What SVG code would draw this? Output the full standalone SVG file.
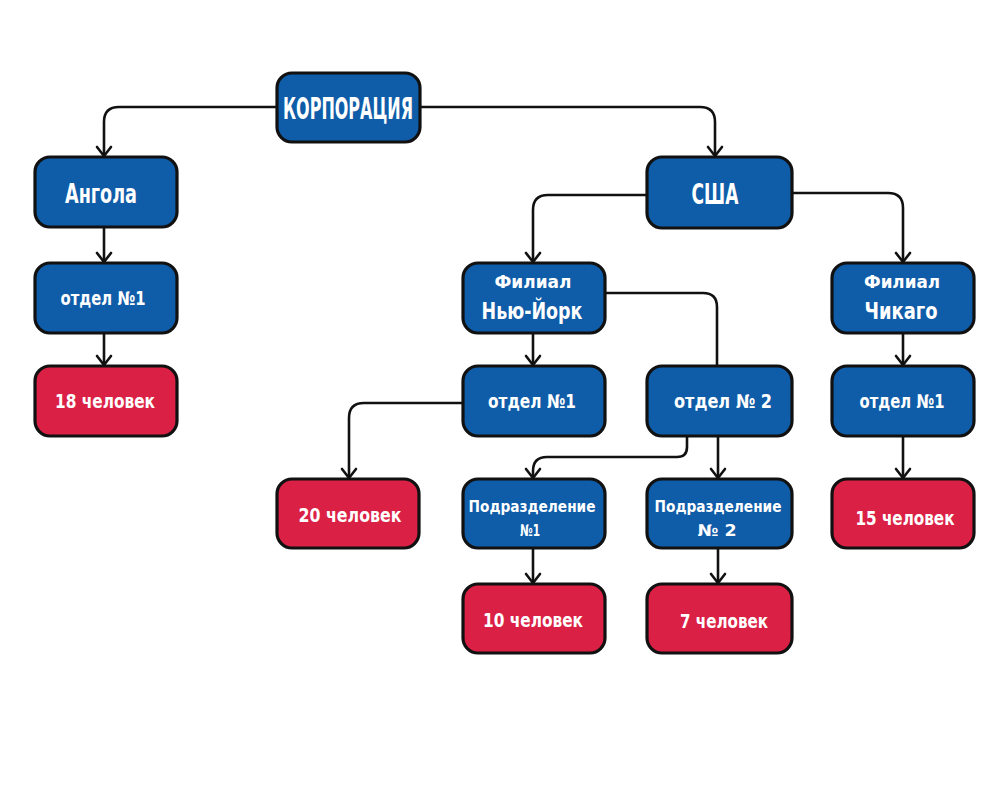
<svg xmlns="http://www.w3.org/2000/svg" width="1002" height="793" viewBox="0 0 1002 793">
<defs>
<style>
.b rect{fill:#0f5ca8;stroke:#111;stroke-width:3.2}
.r rect{fill:#db2045;stroke:#111;stroke-width:3.2}
text{fill:#fff;font-family:"DejaVu Sans Condensed","Liberation Sans Narrow","Liberation Sans",sans-serif;font-weight:bold;text-anchor:middle;dominant-baseline:central}
.c path{fill:none;stroke:#111;stroke-width:2.6}
.a{marker-end:url(#ah)}
</style>
<marker id="ah" viewBox="-11 -9 13 18" refX="0" refY="0" markerWidth="13" markerHeight="18" markerUnits="userSpaceOnUse" orient="auto">
<path d="M-9,-7 L0,0 L-9,7" fill="none" stroke="#111" stroke-width="2.6" stroke-linejoin="round" stroke-linecap="round"/>
</marker>
</defs>
<rect width="1002" height="793" fill="#fff"/>
<g id="connectors" class="c">
<path class="a" d="M277,107 H119 Q104,107 104,122 V156"/>
<path class="a" d="M420,107 H700 Q715,107 715,122 V156"/>
<path class="a" d="M647,195 H548 Q533,195 533,210 V262"/>
<path class="a" d="M792,193 H888 Q903,193 903,208 V262"/>
<path class="a" d="M104,227 V262"/>
<path class="a" d="M104,333 V365"/>
<path class="a" d="M533,333 V365"/>
<path d="M605,293 H703 Q717,293 717,307 V366"/>
<path class="a" d="M463,403 H364 Q349,403 349,418 V478"/>
<path class="a" d="M687,436 V447 Q687,457 677,457 H547 Q533,457 533,471 V478"/>
<path class="a" d="M718,436 V478"/>
<path class="a" d="M533,549 V583"/>
<path class="a" d="M718,549 V583"/>
<path class="a" d="M903,333 V365"/>
<path class="a" d="M903,436 V478"/>
</g>
<g id="corp" class="b"><rect x="277" y="73" width="143" height="69" rx="15"/><text x="348" y="108" font-size="31" textLength="130" lengthAdjust="spacingAndGlyphs">КОРПОРАЦИЯ</text></g>
<g id="angola" class="b"><rect x="35" y="157" width="142" height="70" rx="15"/><text x="101" y="193" font-size="27" textLength="72" lengthAdjust="spacingAndGlyphs">Ангола</text></g>
<g id="usa" class="b"><rect x="647" y="157" width="145" height="71" rx="15"/><text x="715" y="194" font-size="29" textLength="47" lengthAdjust="spacingAndGlyphs">США</text></g>
<g id="angola-otdel1" class="b"><rect x="35" y="263" width="142" height="70" rx="15"/><text x="103" y="298" font-size="19" textLength="85" lengthAdjust="spacingAndGlyphs">отдел №1</text></g>
<g id="angola-18" class="r"><rect x="35" y="366" width="142" height="70" rx="15"/><text x="105" y="401" font-size="20" textLength="100" lengthAdjust="spacingAndGlyphs">18 человек</text></g>
<g id="ny" class="b"><rect x="463" y="263" width="142" height="70" rx="15"/><text x="533" y="282" font-size="17" textLength="77" lengthAdjust="spacingAndGlyphs">Филиал</text><text x="532" y="311" font-size="23" textLength="101" lengthAdjust="spacingAndGlyphs">Нью-Йорк</text></g>
<g id="chicago" class="b"><rect x="832" y="263" width="142" height="70" rx="15"/><text x="902" y="282" font-size="17" textLength="76" lengthAdjust="spacingAndGlyphs">Филиал</text><text x="901" y="311" font-size="23" textLength="73" lengthAdjust="spacingAndGlyphs">Чикаго</text></g>
<g id="ny-otdel1" class="b"><rect x="463" y="366" width="142" height="70" rx="15"/><text x="532" y="401" font-size="19" textLength="88" lengthAdjust="spacingAndGlyphs">отдел №1</text></g>
<g id="ny-otdel2" class="b"><rect x="647" y="366" width="145" height="70" rx="15"/><text x="723" y="401" font-size="19" textLength="98" lengthAdjust="spacingAndGlyphs">отдел № 2</text></g>
<g id="chicago-otdel1" class="b"><rect x="832" y="366" width="142" height="70" rx="15"/><text x="902" y="401" font-size="19" textLength="85" lengthAdjust="spacingAndGlyphs">отдел №1</text></g>
<g id="ny-20" class="r"><rect x="277" y="479" width="142" height="69" rx="15"/><text x="350" y="515" font-size="20" textLength="103" lengthAdjust="spacingAndGlyphs">20 человек</text></g>
<g id="podr1" class="b"><rect x="463" y="479" width="142" height="69" rx="15"/><text x="532" y="506" font-size="16" textLength="127" lengthAdjust="spacingAndGlyphs">Подразделение</text><text x="530" y="530" font-size="16" textLength="20" lengthAdjust="spacingAndGlyphs">№1</text></g>
<g id="podr2" class="b"><rect x="647" y="479" width="145" height="69" rx="15"/><text x="718" y="506" font-size="16" textLength="127" lengthAdjust="spacingAndGlyphs">Подразделение</text><text x="717" y="530" font-size="16" textLength="39" lengthAdjust="spacingAndGlyphs">№ 2</text></g>
<g id="chicago-15" class="r"><rect x="832" y="479" width="142" height="69" rx="15"/><text x="905" y="518" font-size="20" textLength="99" lengthAdjust="spacingAndGlyphs">15 человек</text></g>
<g id="podr1-10" class="r"><rect x="463" y="584" width="142" height="69" rx="15"/><text x="533" y="620" font-size="20" textLength="100" lengthAdjust="spacingAndGlyphs">10 человек</text></g>
<g id="podr2-7" class="r"><rect x="647" y="584" width="145" height="69" rx="15"/><text x="724" y="621" font-size="20" textLength="88" lengthAdjust="spacingAndGlyphs">7 человек</text></g>
</svg>
